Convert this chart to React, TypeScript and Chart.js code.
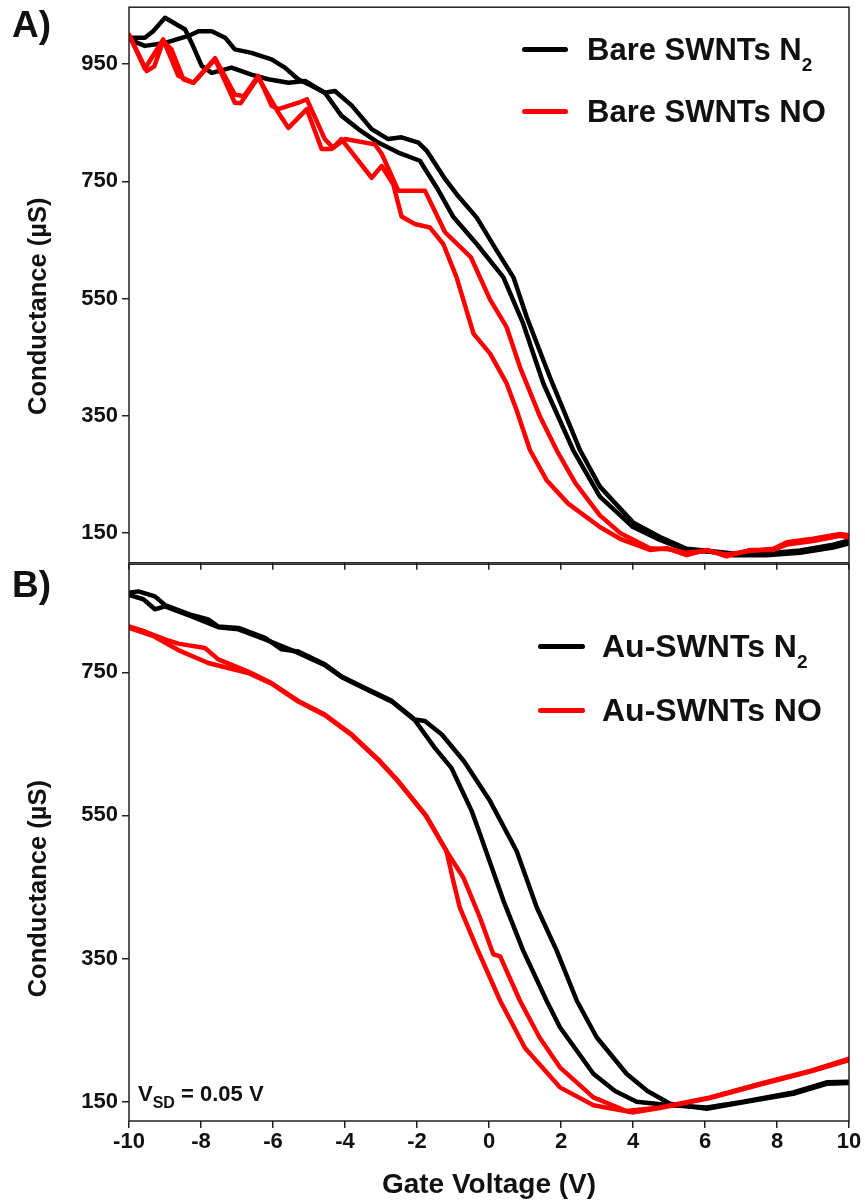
import React, { useEffect, useRef } from 'react';
import { Chart, registerables } from 'chart.js';

Chart.register(...registerables);

type Pt = [number, number];

// ---------------- data ----------------
const xTicks = [-10, -8, -6, -4, -2, 0, 2, 4, 6, 8, 10];
const yTicksTop = [150, 350, 550, 750, 950];
const yTicksBottom = [150, 350, 550, 750];

// Panel A: bare SWNTs, two sweeps per gas
const bareN2SweepA: Pt[] = [
  [-10, 995], [-9.56, 995], [-9.33, 1006], [-9.0, 1029], [-8.44, 1009], [-8.26, 986], [-7.98, 947],
  [-7.7, 935], [-7.15, 944], [-6.6, 932], [-6.13, 924], [-5.57, 918], [-5.11, 921], [-4.56, 901],
  [-4.1, 862], [-3.63, 839], [-3.08, 816], [-2.52, 799], [-1.92, 785], [-1.41, 735], [-1.0, 690],
  [-0.34, 643], [0.4, 586], [0.95, 507], [1.51, 405], [2.34, 291], [3.08, 212], [4.0, 160],
  [4.75, 138], [5.49, 120], [6.14, 118], [6.79, 112], [7.7, 112], [8.64, 116], [9.56, 125], [10, 132],
];
const bareN2SweepB: Pt[] = [
  [-10, 992], [-9.56, 981], [-9.0, 986], [-8.35, 998], [-8.07, 1006], [-7.7, 1006], [-7.33, 995],
  [-7.06, 975], [-6.6, 969], [-6.04, 958], [-5.67, 944], [-5.3, 924], [-4.93, 913], [-4.56, 901],
  [-4.28, 904], [-3.81, 879], [-3.26, 839], [-2.8, 822], [-2.43, 825], [-1.96, 816], [-1.73, 802],
  [-1.22, 754], [-0.9, 728], [-0.34, 688], [0.21, 632], [0.68, 586], [1.05, 518], [1.69, 416],
  [2.53, 291], [3.08, 229], [4.0, 168], [4.75, 143], [5.49, 123], [6.14, 119], [6.79, 115],
  [7.7, 115], [8.64, 120], [9.56, 130], [10, 137],
];
const bareNOSweepA: Pt[] = [
  [-10, 1000], [-9.51, 938], [-9.3, 946], [-9.05, 989], [-8.82, 975], [-8.49, 924], [-8.21, 918],
  [-7.61, 958], [-7.06, 884], [-6.9, 883], [-6.41, 927], [-5.85, 867], [-5.57, 841], [-5.06, 873],
  [-4.65, 805], [-4.37, 805], [-4.1, 822], [-3.26, 756], [-2.98, 776], [-2.66, 745], [-2.43, 690],
  [-2.06, 677], [-1.64, 671], [-1.27, 643], [-0.9, 586], [-0.43, 490], [0.03, 456], [0.49, 405],
  [0.77, 359], [1.14, 291], [1.6, 240], [2.2, 200], [3.08, 160], [3.64, 140], [4.47, 121],
  [4.94, 124], [5.49, 112], [6.05, 121], [6.6, 110], [7.25, 121], [7.9, 121], [8.27, 130],
  [9.0, 136], [9.75, 145], [10, 142],
];
const bareNOSweepB: Pt[] = [
  [-10, 1000], [-9.56, 942], [-9.05, 992], [-8.63, 930], [-8.21, 918], [-7.61, 960], [-7.06, 898],
  [-6.81, 895], [-6.41, 930], [-6.04, 879], [-5.85, 873], [-5.29, 884], [-5.06, 890], [-4.56, 822],
  [-4.33, 807], [-4.0, 822], [-3.17, 813], [-2.98, 797], [-2.52, 734], [-1.78, 734], [-1.22, 663],
  [-0.5, 620], [0.03, 548], [0.49, 501], [0.86, 433], [1.42, 348], [1.88, 291], [2.4, 235],
  [3.08, 180], [3.64, 150], [4.47, 124], [5.0, 122], [5.49, 116], [6.05, 120], [6.6, 113],
  [7.25, 119], [7.9, 123], [8.27, 134], [9.0, 140], [9.75, 148], [10, 146],
];

// Panel B: Au-SWNTs, two sweeps per gas
const auN2SweepA: Pt[] = [
  [-10, 861], [-9.74, 863], [-9.28, 856], [-9.0, 844], [-8.26, 830], [-7.8, 824], [-7.52, 814],
  [-6.96, 812], [-6.22, 798], [-5.76, 782], [-5.3, 779], [-4.56, 761], [-4.09, 744], [-3.44, 728],
  [-2.7, 710], [-2.06, 684], [-1.78, 682], [-1.31, 663], [-0.7, 626], [0.03, 570], [0.77, 500],
  [1.33, 421], [1.88, 361], [2.44, 291], [2.99, 240], [3.82, 189], [4.4, 165], [5.03, 147],
  [6.05, 140], [7.06, 149], [8.45, 161], [9.38, 175], [10, 176],
];
const auN2SweepB: Pt[] = [
  [-10, 858], [-9.6, 852], [-9.28, 838], [-9.0, 842], [-8.26, 828], [-7.52, 813], [-6.96, 810],
  [-6.22, 796], [-5.3, 777], [-4.56, 760], [-4.09, 743], [-3.44, 727], [-2.7, 709], [-2.06, 683],
  [-1.5, 644], [-1.04, 616], [-0.48, 556], [-0.25, 524], [0.4, 431], [0.95, 361], [1.6, 291],
  [1.97, 254], [2.9, 189], [3.5, 165], [4.1, 150], [5.03, 145], [6.05, 142], [7.06, 150],
  [8.45, 163], [9.38, 177], [10, 178],
];
const auNOSweepA: Pt[] = [
  [-10, 814], [-9.56, 807], [-9.0, 796], [-8.63, 790], [-7.89, 784], [-7.52, 768], [-6.69, 751],
  [-6.04, 735], [-5.3, 710], [-4.56, 691], [-3.81, 663], [-3.07, 628], [-2.52, 598], [-1.75, 550],
  [-1.18, 500], [-0.71, 463], [-0.25, 407], [0.12, 356], [0.31, 353], [0.86, 291], [1.4, 240],
  [1.97, 198], [2.9, 156], [3.82, 137], [4.75, 142], [6.14, 156], [7.53, 175], [8.92, 193],
  [9.94, 209], [10, 210],
];
const auNOSweepB: Pt[] = [
  [-10, 812], [-9.3, 800], [-8.63, 781], [-7.8, 763], [-6.69, 749], [-6.04, 734], [-5.3, 709],
  [-4.56, 690], [-3.81, 662], [-3.07, 627], [-2.52, 597], [-1.75, 549], [-1.18, 500], [-0.99, 458],
  [-0.81, 421], [-0.34, 365], [0.31, 291], [1.0, 225], [1.97, 170], [2.9, 145], [3.98, 135],
  [4.75, 141], [6.14, 155], [7.53, 174], [8.92, 192], [10, 208],
];

const xTitle = 'Gate Voltage (V)';
const yTitle = 'Conductance (µS)';

// ---------------- styling ----------------
const FONT = "'Liberation Sans', Arial, Helvetica, sans-serif";
const BLACK = '#000000';
const RED = '#ff0000';
const AXIS = '#222222';

const framePlugin = {
  id: 'frame',
  afterDraw(chart: any) {
    const { ctx, chartArea } = chart;
    const { left, top, right, bottom } = chartArea;
    ctx.save();
    ctx.strokeStyle = AXIS;
    ctx.lineWidth = 1.5;
    ctx.strokeRect(left, top, right - left, bottom - top);
    ctx.restore();
  },
};

type PanelProps = {
  series: { label: string; data: Pt[]; color: string }[];
  yMin: number;
  yMax: number;
  yTicks: number[];
  showX: boolean;
  top: number;
  height: number;
  titleSpaces: number;
};

function Panel({ series, yMin, yMax, yTicks, showX, top, height, titleSpaces }: PanelProps) {
  const ref = useRef<HTMLCanvasElement | null>(null);
  useEffect(() => {
    if (!ref.current) return;
    const chart = new Chart(ref.current, {
      type: 'scatter',
      data: {
        datasets: series.map((s) => ({
          label: s.label,
          data: s.data.map(([x, y]) => ({ x, y })),
          showLine: true,
          borderColor: s.color,
          backgroundColor: s.color,
          borderWidth: 4.5,
          pointRadius: 0,
          pointHoverRadius: 0,
          tension: 0,
          borderJoinStyle: 'round',
          borderCapStyle: 'round',
        })),
      },
      options: {
        responsive: false,
        animation: false,
        devicePixelRatio: 1,
        layout: { padding: { top: 6, right: 16, left: 0, bottom: 0 } },
        plugins: { legend: { display: false }, tooltip: { enabled: false } },
        scales: {
          x: {
            type: 'linear',
            min: -10,
            max: 10,
            afterBuildTicks: (scale: any) => {
              scale.ticks = xTicks.map((v) => ({ value: v }));
            },
            afterFit: (scale: any) => {
              scale.height = showX ? 81 : 8;
            },
            border: { display: false },
            grid: { display: true, drawOnChartArea: false, drawTicks: true, tickLength: 7, color: AXIS, lineWidth: 1.5 },
            ticks: {
              display: showX,
              padding: 1,
              color: '#111',
              font: { family: FONT, size: 22, weight: 'bold' },
              callback: (v: any) => String(v),
            },
            title: {
              display: showX,
              text: xTitle,
              color: '#111',
              font: { family: FONT, size: 28, weight: 'bold' },
              padding: { top: 0, bottom: 0 },
            },
          },
          y: {
            type: 'linear',
            min: yMin,
            max: yMax,
            afterBuildTicks: (scale: any) => {
              scale.ticks = yTicks.map((v) => ({ value: v }));
            },
            afterFit: (scale: any) => {
              scale.width = 129;
            },
            border: { display: false },
            grid: { display: true, drawOnChartArea: false, drawTicks: true, tickLength: 7, color: AXIS, lineWidth: 1.5 },
            ticks: {
              padding: 4,
              color: '#111',
              font: { family: FONT, size: 22, weight: 'bold' },
              callback: (v: any) => String(v),
            },
            title: {
              display: true,
              text: yTitle + ' '.repeat(titleSpaces),
              color: '#111',
              font: { family: FONT, size: 25.5, weight: 'bold' },
              padding: { top: 24, bottom: 0 },
            },
          },
        },
      } as any,
      plugins: [framePlugin],
    });
    return () => chart.destroy();
  }, []);
  return (
    <canvas
      ref={ref}
      width={865}
      height={height}
      style={{ position: 'absolute', left: 0, top, width: 865, height }}
    />
  );
}

const textStyle: React.CSSProperties = {
  position: 'absolute',
  fontFamily: FONT,
  fontWeight: 'bold',
  color: '#111',
  lineHeight: 1,
  whiteSpace: 'nowrap',
};

function LegendRow({ x, lineX, lineW, y, color, main, sub, size }: { x: number; lineX: number; lineW: number; y: number; color: string; main: string; sub?: string; size: number }) {
  return (
    <>
      <div style={{ position: 'absolute', left: lineX, top: y - 2.5, width: lineW, height: 5, borderRadius: 2.5, background: color }} />
      <div style={{ ...textStyle, left: x, top: y - 0.488 * size, fontSize: size }}>
        {main}
        {sub ? <span style={{ fontSize: 19, position: 'relative', top: 11 }}>{sub}</span> : null}
      </div>
    </>
  );
}

export default function App() {
  return (
    <div style={{ position: 'absolute', left: 0, top: 0, width: 865, height: 1202, background: '#fff', overflow: 'hidden' }}>
      <Panel
        series={[
          { label: 'Bare SWNTs NO', data: bareNOSweepA, color: RED },
          { label: 'Bare SWNTs NO', data: bareNOSweepB, color: RED },
          { label: 'Bare SWNTs N2', data: bareN2SweepA, color: BLACK },
          { label: 'Bare SWNTs N2', data: bareN2SweepB, color: BLACK },
        ]}
        yMin={99}
        yMax={1047}
        yTicks={yTicksTop}
        showX={false}
        top={-10}
        height={590}
        titleSpaces={6}
      />
      <Panel
        series={[
          { label: 'Au-SWNTs NO', data: auNOSweepA, color: RED },
          { label: 'Au-SWNTs NO', data: auNOSweepB, color: RED },
          { label: 'Au-SWNTs N2', data: auN2SweepA, color: BLACK },
          { label: 'Au-SWNTs N2', data: auN2SweepB, color: BLACK },
        ]}
        yMin={123}
        yMax={901}
        yTicks={yTicksBottom}
        showX={true}
        top={547}
        height={655}
        titleSpaces={13}
      />
      <div style={{ ...textStyle, left: 12, top: 6, fontSize: 37 }}>A)</div>
      <div style={{ ...textStyle, left: 12, top: 566, fontSize: 37 }}>B)</div>
      <LegendRow x={587} lineX={522} lineW={46} y={49} color={BLACK} main="Bare SWNTs N" sub="2" size={31} />
      <LegendRow x={587} lineX={522} lineW={46} y={111} color={RED} main="Bare SWNTs NO" size={31} />
      <LegendRow x={602} lineX={538} lineW={47} y={646} color={BLACK} main="Au-SWNTs N" sub="2" size={32} />
      <LegendRow x={602} lineX={538} lineW={47} y={710} color={RED} main="Au-SWNTs NO" size={32} />
      <div style={{ ...textStyle, left: 138, top: 1083, fontSize: 22 }}>
        V<span style={{ fontSize: 16, position: 'relative', top: 7 }}>SD</span> = 0.05 V
      </div>
    </div>
  );
}
